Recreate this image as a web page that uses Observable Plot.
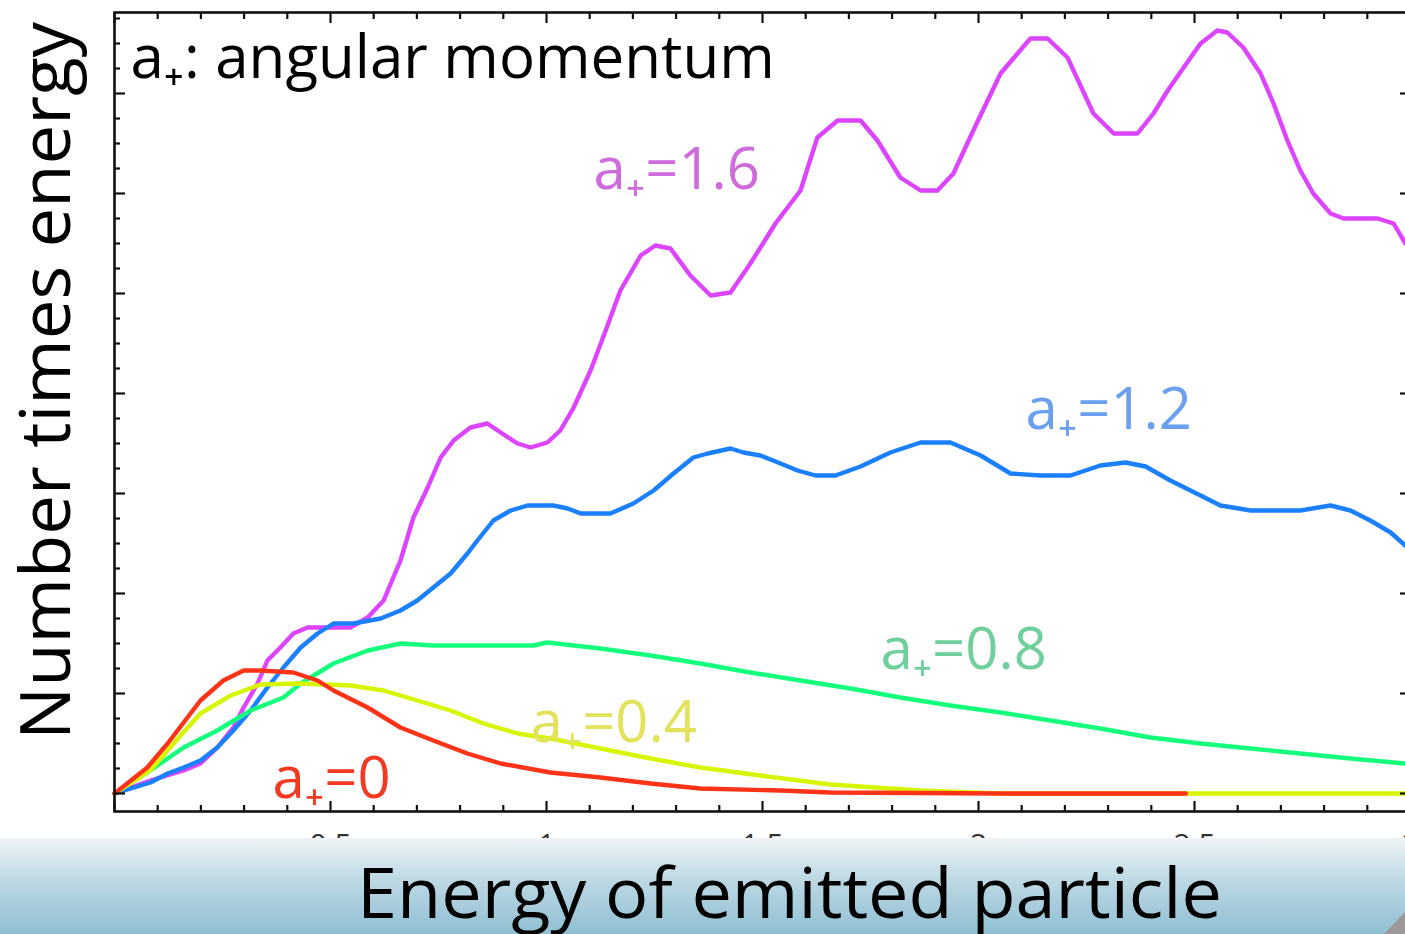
<!DOCTYPE html>
<html>
<head>
<meta charset="utf-8">
<script src="https://cdn.jsdelivr.net/npm/d3@7"></script>
<script src="https://cdn.jsdelivr.net/npm/@observablehq/plot@0.6"></script>
<style>
  html, body { margin: 0; padding: 0; background: #fff; overflow: hidden; }
  #wrap { position: relative; width: 1405px; height: 934px; overflow: hidden; background: #fff; }
  #chart { position: absolute; left: 0; top: 0; width: 1420px; }
  #chart svg { max-width: none !important; }
  #overlay { position: absolute; left: 0; top: 0; pointer-events: none; }
  text { font-family: "Open Sans", "Noto Sans", sans-serif; }
</style>
</head>
<body>
<div id="wrap">
  <div id="chart"></div>
  <svg id="overlay" width="1405" height="934" xmlns="http://www.w3.org/2000/svg">
    <defs>
      <linearGradient id="band" x1="0" y1="0" x2="0" y2="1">
        <stop offset="0" stop-color="#eef3f6"/>
        <stop offset="0.45" stop-color="#bcd8e3"/>
        <stop offset="1" stop-color="#8fbfd3"/>
      </linearGradient>
    </defs>
    <rect x="0" y="838" width="1405" height="96" fill="url(#band)"/>
    <text id="xlabel" x="357" y="918" font-size="70" fill="#000" textLength="865" lengthAdjust="spacingAndGlyphs">Energy of emitted particle</text>
    <text id="ylabel" transform="translate(70,740) rotate(-90)" font-size="70" fill="#000" textLength="718" lengthAdjust="spacingAndGlyphs">Number times energy</text>
    <polygon points="1405,912 1405,934 1384,934" fill="#9d9797"/>
  </svg>
</div>
<script>
// ---- series: a* = 0 (red)
const a0_E = [0, 0.076, 0.123, 0.199, 0.252, 0.299, 0.338, 0.414, 0.470, 0.507, 0.586, 0.662, 0.738, 0.817, 0.894, 1.009, 1.125, 1.241, 1.356, 1.542, 1.657, 2.05, 2.48];
const a0_N = [0, 0.26, 0.50, 0.93, 1.13, 1.23, 1.23, 1.21, 1.13, 1.03, 0.86, 0.66, 0.53, 0.40, 0.30, 0.21, 0.16, 0.10, 0.05, 0.03, 0.01, 0.0, 0.0];

// ---- series: a* = 0.4 (yellow)
const a04_E = [0, 0.083, 0.153, 0.199, 0.269, 0.338, 0.431, 0.546, 0.623, 0.701, 0.778, 0.854, 0.933, 1.009, 1.125, 1.241, 1.356, 1.495, 1.657, 1.866, 2.05, 2.99];
const a04_N = [0, 0.23, 0.58, 0.80, 0.98, 1.09, 1.10, 1.08, 1.03, 0.93, 0.83, 0.70, 0.60, 0.55, 0.45, 0.35, 0.26, 0.18, 0.09, 0.03, 0.0, 0.0];

// ---- series: a* = 0.8 (green)
const a08_E = [0, 0.083, 0.160, 0.238, 0.315, 0.391, 0.431, 0.507, 0.586, 0.662, 0.738, 0.970, 1.002, 1.125, 1.241, 1.356, 1.472, 1.588, 1.704, 1.819, 1.935, 2.051, 2.167, 2.282, 2.398, 2.514, 2.630, 2.745, 2.861, 2.988];
const a08_N = [0, 0.23, 0.46, 0.63, 0.83, 0.96, 1.10, 1.30, 1.43, 1.50, 1.48, 1.48, 1.51, 1.45, 1.38, 1.30, 1.21, 1.13, 1.05, 0.96, 0.88, 0.81, 0.73, 0.65, 0.56, 0.50, 0.45, 0.40, 0.35, 0.30];

// ---- series: a* = 1.2 (blue)
const a12_E = [0, 0.083, 0.123, 0.160, 0.199, 0.238, 0.275, 0.315, 0.354, 0.391, 0.431, 0.470, 0.507, 0.553, 0.616, 0.662, 0.701, 0.738, 0.778, 0.817, 0.840, 0.877, 0.917, 0.956, 1.016, 1.049, 1.079, 1.148, 1.201, 1.248, 1.294, 1.340, 1.373, 1.426, 1.456, 1.495, 1.542, 1.581, 1.623, 1.669, 1.727, 1.796, 1.866, 1.935, 2.005, 2.074, 2.144, 2.213, 2.282, 2.340, 2.387, 2.444, 2.514, 2.560, 2.630, 2.745, 2.815, 2.861, 2.907, 2.954, 2.988];
const a12_N = [0, 0.11, 0.20, 0.26, 0.33, 0.46, 0.63, 0.83, 1.06, 1.26, 1.46, 1.60, 1.70, 1.70, 1.75, 1.83, 1.93, 2.06, 2.20, 2.40, 2.53, 2.73, 2.83, 2.88, 2.88, 2.85, 2.80, 2.80, 2.90, 3.03, 3.20, 3.36, 3.40, 3.45, 3.41, 3.38, 3.30, 3.23, 3.18, 3.18, 3.27, 3.41, 3.51, 3.51, 3.38, 3.20, 3.18, 3.18, 3.28, 3.31, 3.27, 3.13, 2.98, 2.88, 2.83, 2.83, 2.88, 2.83, 2.73, 2.61, 2.48];

// ---- series: a* = 1.6 (magenta)
const a16_E = [0, 0.083, 0.160, 0.199, 0.238, 0.275, 0.299, 0.331, 0.354, 0.384, 0.414, 0.447, 0.546, 0.586, 0.623, 0.662, 0.692, 0.725, 0.755, 0.785, 0.824, 0.863, 0.894, 0.933, 0.963, 1.002, 1.032, 1.063, 1.102, 1.137, 1.171, 1.218, 1.252, 1.287, 1.333, 1.380, 1.426, 1.472, 1.530, 1.588, 1.627, 1.674, 1.727, 1.766, 1.819, 1.866, 1.905, 1.942, 1.988, 2.051, 2.120, 2.160, 2.206, 2.266, 2.313, 2.368, 2.405, 2.438, 2.475, 2.514, 2.553, 2.576, 2.613, 2.653, 2.683, 2.715, 2.745, 2.775, 2.815, 2.845, 2.924, 2.961, 2.988];
const a16_N = [0, 0.13, 0.23, 0.30, 0.46, 0.66, 0.86, 1.10, 1.33, 1.46, 1.60, 1.66, 1.66, 1.76, 1.93, 2.33, 2.76, 3.06, 3.36, 3.53, 3.66, 3.70, 3.61, 3.50, 3.46, 3.51, 3.63, 3.86, 4.23, 4.63, 5.03, 5.38, 5.48, 5.45, 5.18, 4.98, 5.01, 5.30, 5.70, 6.03, 6.56, 6.73, 6.73, 6.53, 6.16, 6.03, 6.03, 6.20, 6.63, 7.20, 7.55, 7.55, 7.36, 6.80, 6.60, 6.60, 6.80, 7.03, 7.26, 7.50, 7.63, 7.61, 7.46, 7.20, 6.90, 6.53, 6.23, 6.00, 5.80, 5.75, 5.75, 5.70, 5.50];

// ---- labels and ticks
const seriesNames = ["a₊=1.6", "a₊=1.2", "a₊=0.8", "a₊=0.4", "a₊=0"];
const xMajorTicks = [0, 0.5, 1, 1.5, 2, 2.5, 3];
const xTickLabels = ["0.5", "1", "1.5", "2", "2.5", "3"];
const xTickLabelValues = [0.5, 1, 1.5, 2, 2.5, 3];
const xMinorTicks = d3.range(1, 30).map(i => i / 10).filter(v => Math.abs(v * 2 - Math.round(v * 2)) > 1e-6);
const yMajorTicks = [0, 1, 2, 3, 4, 5, 6, 7];
const yMinorTicks = d3.range(1, 32).map(i => i / 4).filter(v => v % 1 !== 0);
const labelE = [1.109, 2.109, 1.773, 0.963, 0.366];
const labelN = [6.05, 3.65, 1.25, 0.52, -0.04];
const noteText = "a₊: angular momentum";

// ---- styles
const lineColors = ["#dd44ff", "#1a80ff", "#14ff7c", "#d8f500", "#ff3318"];
const labelColors = ["#cf6bdc", "#6b9ff0", "#6fd09c", "#e2e25c", "#f23a22"];

const seriesData = [
  [a16_E, a16_N], [a12_E, a12_N], [a08_E, a08_N], [a04_E, a04_N], [a0_E, a0_N]
].map(([E, N], i) => E.map((e, j) => ({E: e, N: N[j], series: seriesNames[i]})));

const lineMarks = seriesData.map((rows, i) =>
  Plot.line(rows, {x: "E", y: "N", stroke: lineColors[i], strokeWidth: 4.4, strokeLinejoin: "round", strokeLinecap: "round"})
);

const labelMarks = seriesNames.map((name, i) =>
  Plot.text([name], {x: () => labelE[i], y: () => labelN[i], text: d => d, fill: labelColors[i],
    fontSize: 58, textAnchor: "start", lineAnchor: "bottom"})
);

const chart = Plot.plot({
  width: 1420,
  height: 934,
  marginLeft: 114,
  marginRight: 10,
  marginTop: 12,
  marginBottom: 123,
  x: {domain: [0, 3]},
  y: {domain: [-0.18, 7.81]},
  style: {background: "transparent", fontFamily: "'Open Sans', 'Noto Sans', sans-serif", overflow: "visible", maxWidth: "none"},
  marks: [
    ...lineMarks,
    ...labelMarks,
    Plot.text([noteText], {x: () => 0.037, y: () => 7.16, text: d => d, fill: "#000", fontSize: 60, textAnchor: "start", lineAnchor: "bottom"}),
    Plot.axisX({ticks: xMajorTicks, anchor: "bottom", tickSize: -10, tickFormat: () => "", label: null, strokeWidth: 2.2, stroke: "#111"}),
    Plot.axisX({ticks: xMinorTicks, anchor: "bottom", tickSize: -6, tickFormat: () => "", label: null, strokeWidth: 2.2, stroke: "#111"}),
    Plot.axisX({ticks: xMajorTicks, anchor: "top", tickSize: -10, tickFormat: () => "", label: null, strokeWidth: 2.2, stroke: "#111"}),
    Plot.axisX({ticks: xMinorTicks, anchor: "top", tickSize: -6, tickFormat: () => "", label: null, strokeWidth: 2.2, stroke: "#111"}),
    Plot.axisY({ticks: yMajorTicks, anchor: "left", tickSize: -11, tickFormat: () => "", label: null, strokeWidth: 2.2, stroke: "#111"}),
    Plot.axisY({ticks: yMinorTicks, anchor: "left", tickSize: -6, tickFormat: () => "", label: null, strokeWidth: 2.2, stroke: "#111"}),
    Plot.axisY({ticks: yMajorTicks, anchor: "right", tickSize: -11, tickFormat: () => "", label: null, strokeWidth: 2.2, stroke: "#111"}),
    Plot.axisY({ticks: yMinorTicks, anchor: "right", tickSize: -6, tickFormat: () => "", label: null, strokeWidth: 2.2, stroke: "#111"}),
    Plot.text(xTickLabels, {x: (d, i) => xTickLabelValues[i], text: d => d, frameAnchor: "bottom", dy: 22, lineAnchor: "top", fontSize: 30, fill: "#333"}),
    Plot.frame({stroke: "#111", strokeWidth: 2.6})
  ]
});
document.getElementById("chart").appendChild(chart);
</script>
</body>
</html>
